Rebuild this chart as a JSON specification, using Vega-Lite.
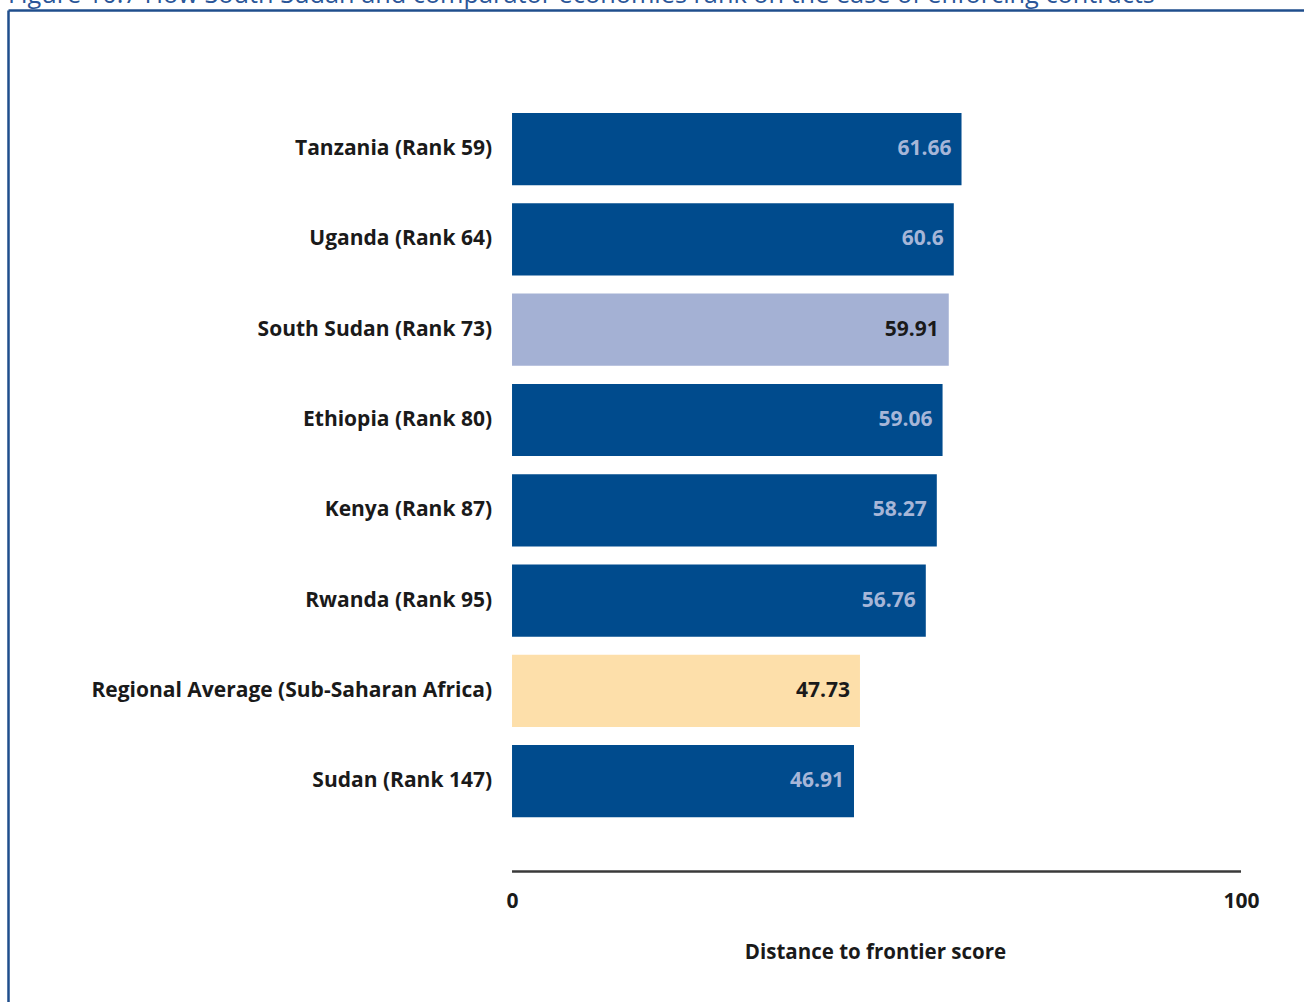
{
  "$schema": "https://vega.github.io/schema/vega-lite/v6.json",
  "autosize": "none",
  "padding": {"left": 8, "top": 10, "right": 0, "bottom": 0},
  "width": 1296,
  "height": 992,
  "background": "white",
  "title": {
    "text": "Figure 10.7 How South Sudan and comparator economies rank on the ease of enforcing contracts",
    "anchor": "start",
    "frame": "group",
    "font": "Open Sans",
    "fontSize": 25.3,
    "fontWeight": "normal",
    "color": "#2A5699",
    "baseline": "alphabetic",
    "offset": -18.5
  },
  "config": {
    "font": "Open Sans",
    "view": {"stroke": null}
  },
  "resolve": {"axis": {"x": "independent"}},
  "data": {
    "values": [
      {"label": "Tanzania (Rank 59)", "value": 61.66, "group": "country"},
      {"label": "Uganda (Rank 64)", "value": 60.6, "group": "country"},
      {"label": "South Sudan (Rank 73)", "value": 59.91, "group": "focus"},
      {"label": "Ethiopia (Rank 80)", "value": 59.06, "group": "country"},
      {"label": "Kenya (Rank 87)", "value": 58.27, "group": "country"},
      {"label": "Rwanda (Rank 95)", "value": 56.76, "group": "country"},
      {"label": "Regional Average (Sub-Saharan Africa)", "value": 47.73, "group": "regional"},
      {"label": "Sudan (Rank 147)", "value": 46.91, "group": "country"}
    ]
  },
  "layer": [
    {
      "mark": {"type": "bar"},
      "encoding": {
        "y": {
          "field": "label",
          "type": "nominal",
          "axis": {
            "labels": false,
            "ticks": false,
            "grid": false,
            "title": null,
            "domain": true,
            "domainColor": "#1F4E8C",
            "domainWidth": 2.5
          },
          "scale": {
            "domain": ["__top", "Tanzania (Rank 59)", "Uganda (Rank 64)", "South Sudan (Rank 73)", "Ethiopia (Rank 80)", "Kenya (Rank 87)", "Rwanda (Rank 95)", "Regional Average (Sub-Saharan Africa)", "Sudan (Rank 147)", "__axis", "__bottom"],
            "paddingInner": 0.2,
            "paddingOuter": 0.093,
            "align": 0.756
          }
        },
        "x": {
          "field": "value",
          "type": "quantitative",
          "scale": {"domain": [-69.14, 108.64], "nice": false, "zero": false},
          "axis": {
            "orient": "bottom",
            "values": [0, 100],
            "domain": false,
            "ticks": false,
            "grid": false,
            "offset": -130.5,
            "labelFont": "Open Sans",
            "labelFontSize": 21,
            "labelFontWeight": "bold",
            "labelColor": "#1A1A1A",
            "labelPadding": 19,
            "title": "Distance to frontier score",
            "titleFont": "Open Sans",
            "titleFontSize": 20.5,
            "titleFontWeight": "bold",
            "titleColor": "#1A1A1A",
            "titleX": 867,
            "titleY": 86.5,
            "titleBaseline": "alphabetic",
            "titleAnchor": "middle",
            "titleAlign": "center"
          }
        },
        "x2": {"datum": 0},
        "color": {
          "field": "group",
          "type": "nominal",
          "legend": null,
          "scale": {"domain": ["country", "focus", "regional"], "range": ["#004B8D", "#A4B1D4", "#FDDFAA"]}
        }
      }
    },
    {
      "mark": {"type": "text", "align": "right", "baseline": "middle", "dx": -10, "fontSize": 21, "fontWeight": "bold", "font": "Open Sans"},
      "encoding": {
        "y": {"field": "label", "type": "nominal"},
        "x": {"field": "value", "type": "quantitative", "axis": null},
        "text": {"field": "value", "type": "nominal"},
        "color": {
          "condition": {"test": "datum.group === 'country'", "value": "#A6B6D8"},
          "value": "#1A1A1A"
        }
      }
    },
    {
      "mark": {"type": "text", "align": "right", "baseline": "middle", "dx": -20, "fontSize": 21, "fontWeight": "bold", "font": "Open Sans", "color": "#1A1A1A"},
      "encoding": {
        "y": {"field": "label", "type": "nominal"},
        "x": {"datum": 0, "axis": null},
        "text": {"field": "label", "type": "nominal"}
      }
    },
    {
      "data": {"values": [{}]},
      "mark": {"type": "rule", "color": "#3A3A3A", "strokeWidth": 2.5},
      "encoding": {
        "y": {"datum": "__axis"},
        "x": {
          "datum": 0,
          "axis": {
            "orient": "top",
            "labels": false,
            "ticks": false,
            "grid": false,
            "title": null,
            "domain": true,
            "domainColor": "#1F4E8C",
            "domainWidth": 2.5
          }
        },
        "x2": {"datum": 100}
      }
    }
  ]
}
